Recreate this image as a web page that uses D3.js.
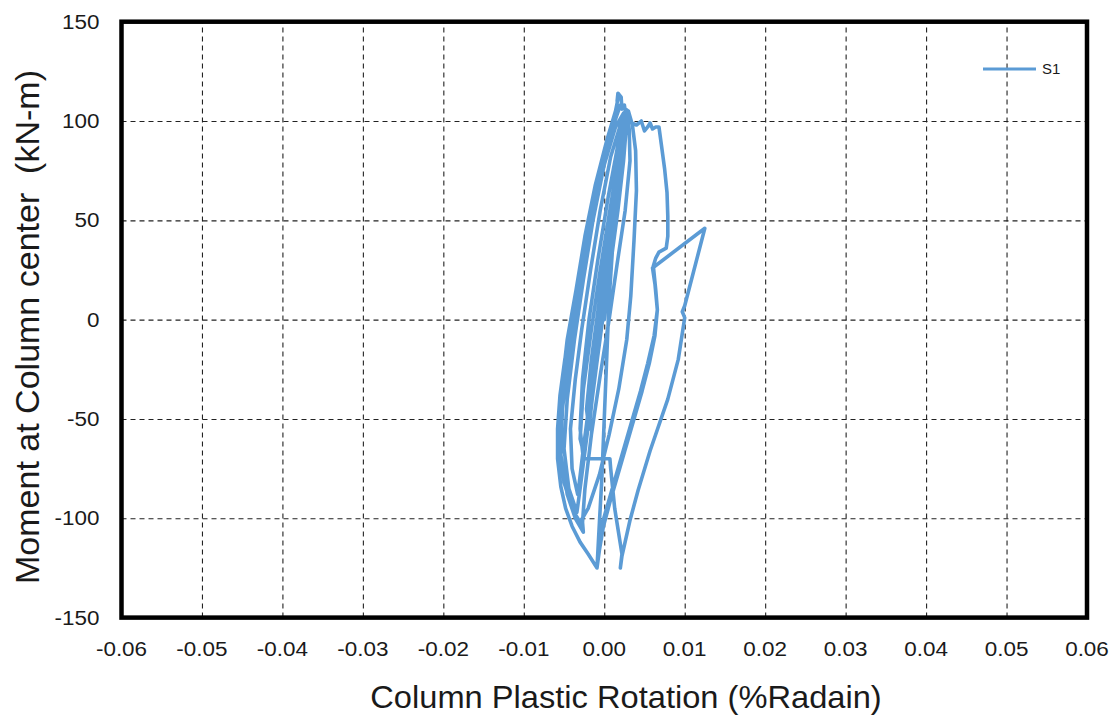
<!DOCTYPE html>
<html>
<head>
<meta charset="utf-8">
<script src="https://cdn.jsdelivr.net/npm/d3@7"></script>
<style>
  html, body { margin: 0; padding: 0; background: #fff; }
  svg { display: block; }
  text { font-family: "Liberation Sans", Arial, sans-serif; fill: #1a1a1a; }
</style>
</head>
<body>
<svg id="chart" width="1117" height="717"></svg>
<script>
// Axis ticks and their printed labels
const xTicks = [-0.06, -0.05, -0.04, -0.03, -0.02, -0.01, 0, 0.01, 0.02, 0.03, 0.04, 0.05, 0.06];
const xTickLabels = ["-0.06", "-0.05", "-0.04", "-0.03", "-0.02", "-0.01", "0.00", "0.01", "0.02", "0.03", "0.04", "0.05", "0.06"];
const yTicks = [-150, -100, -50, 0, 50, 100, 150];
const yTickLabels = ["-150", "-100", "-50", "0", "50", "100", "150"];

const seriesName = "S1";

// Hysteresis record [plastic rotation, moment kN-m], in loading order
const earlyLoops = [
  [0, 0], [0.0005, 20], [0.0011, 42], [0.0016, 58],
  [0.0011, 40], [0.0002, 12], [-0.0008, -18], [-0.0015, -40], [-0.0019, -55],
  [-0.0022, -45], [-0.0016, -20], [-0.0006, 10], [0.0005, 40], [0.0014, 65], [0.0020, 80],
  [0.0016, 65], [0.0008, 38], [-0.0002, 8], [-0.0012, -22], [-0.0020, -48], [-0.0025, -68],
  [-0.0030, -60], [-0.0026, -35], [-0.0016, -5], [-0.0005, 25], [0.0007, 55], [0.0017, 80], [0.0023, 92]
];

const bundleLoops = [
  [0.0021, 82], [0.0013, 55], [0.0003, 25], [-0.0008, -8], [-0.0018, -40], [-0.0026, -65], [-0.0031, -82], [-0.0033, -88],
  [-0.0040, -75], [-0.0042, -55], [-0.0036, -30], [-0.0028, -5], [-0.0017, 25], [-0.0005, 55], [0.0008, 82], [0.0020, 98], [0.0026, 102],
  [0.0027, 95], [0.0024, 80], [0.0017, 55], [0.0008, 28], [-0.0002, 0], [-0.0012, -30], [-0.0022, -60], [-0.0030, -85], [-0.0034, -97],
  [-0.0044, -85], [-0.0050, -65], [-0.0046, -40], [-0.0037, -10], [-0.0026, 20], [-0.0014, 50], [0.0000, 78], [0.0014, 97], [0.0024, 104], [0.0028, 103],
  [0.0031, 96], [0.0032, 80], [0.0026, 55], [0.0016, 28], [0.0006, 0], [-0.0005, -28], [-0.0016, -58], [-0.0024, -85], [-0.0027, -102], [-0.0026, -107],
  [-0.0036, -100], [-0.0046, -88], [-0.0054, -68], [-0.0052, -45], [-0.0043, -15], [-0.0032, 12], [-0.0021, 42], [-0.0006, 72], [0.0009, 95], [0.0020, 108], [0.0030, 105],
  [0.0035, 98], [0.0039, 85], [0.0040, 65], [0.0037, 40], [0.0033, 12], [0.0028, -10], [0.0018, -35], [0.0006, -58], [-0.0006, -78], [-0.0020, -95], [-0.0030, -102], [-0.0039, -96],
  [-0.0050, -82], [-0.0056, -62], [-0.0054, -38], [-0.0046, -10], [-0.0035, 15], [-0.0024, 42], [-0.0011, 68], [0.0003, 90], [0.0014, 105], [0.0018, 113]
];

const peakExcursion = [
  [0.0016, 110], [0.0017, 114], [0.0021, 112], [0.0022, 106], [0.0025, 108], [0.0027, 103], [0.0030, 105], [0.0034, 99],
  [0.0040, 98], [0.0046, 100], [0.0050, 95], [0.0054, 97], [0.0057, 99], [0.0060, 96], [0.0064, 97], [0.0068, 97],
  [0.0071, 88], [0.0075, 76], [0.0078, 64], [0.0079, 52], [0.0079, 42], [0.0077, 36], [0.0068, 34], [0.0064, 31], [0.0061, 27],
  [0.0064, 15], [0.0066, 5], [0.0062, -8], [0.0054, -22], [0.0045, -36], [0.0035, -50], [0.0025, -64], [0.0015, -78],
  [0.0005, -92], [-0.0002, -102], [-0.0006, -114], [-0.0009, -125],
  [-0.0006, -116], [-0.0001, -104], [0.0007, -92], [0.0017, -78], [0.0027, -64], [0.0037, -50], [0.0047, -36], [0.0056, -22],
  [0.0063, -8], [0.0066, 5], [0.0063, 18], [0.0060, 26],
  [0.0125, 46], [0.0100, 7], [0.0097, 4], [0.0100, 1],
  [0.0092, -20], [0.0079, -40], [0.0057, -66], [0.0042, -86], [0.0032, -101], [0.0022, -119], [0.0020, -125],
  [0.0022, -118], [0.0013, -95], [0.0008, -75], [0.0007, -70], [-0.0026, -70]
];

const finalBranch = [
  [-0.0030, -55], [-0.0027, -30], [-0.0019, 0], [-0.0008, 30], [0.0005, 62], [0.0017, 88], [0.0025, 103],
  [0.0024, 92], [0.0019, 70], [0.0011, 40], [0.0006, 10], [0.0003, -20], [0.0000, -50], [-0.0003, -80], [-0.0006, -102], [-0.0009, -125],
  [-0.0020, -118], [-0.0030, -112], [-0.0040, -104], [-0.0048, -95], [-0.0054, -84], [-0.0058, -70], [-0.0058, -55],
  [-0.0055, -38], [-0.0049, -20], [-0.0041, -3], [-0.0034, 15], [-0.0025, 38], [-0.0013, 62], [0.0000, 85], [0.0012, 100], [0.0016, 104]
];

const record = [].concat(earlyLoops, bundleLoops, peakExcursion, finalBranch);

// Layout
const plot = { left: 121.5, right: 1087, top: 21.7, bottom: 617.6 };
const lineColor = "#5B9BD5";
const textStretch = 1.07;

const svg = d3.select("#chart");

const x = d3.scaleLinear().domain([-0.06, 0.06]).range([plot.left, plot.right]);
const y = d3.scaleLinear().domain([-150, 150]).range([plot.bottom, plot.top]);

// Dashed grid
const gx = svg.append("g")
  .attr("transform", `translate(0,${plot.bottom})`)
  .call(d3.axisBottom(x).tickValues(xTicks.slice(1, -1)).tickSize(-(plot.bottom - plot.top)).tickFormat(""));
gx.select(".domain").remove();
gx.selectAll("line").attr("stroke", "#222").attr("stroke-width", 1.1).attr("stroke-dasharray", "5,4");

const gy = svg.append("g")
  .attr("transform", `translate(${plot.left},0)`)
  .call(d3.axisLeft(y).tickValues(yTicks.slice(1, -1)).tickSize(-(plot.right - plot.left)).tickFormat(""));
gy.select(".domain").remove();
gy.selectAll("line").attr("stroke", "#222").attr("stroke-width", 1.1).attr("stroke-dasharray", "5,4");

// Series
const line = d3.line().x(d => x(d[0])).y(d => y(d[1]));
svg.append("path")
  .datum(record)
  .attr("d", line)
  .attr("fill", "none")
  .attr("stroke", lineColor)
  .attr("stroke-width", 3.6)
  .attr("stroke-linejoin", "round")
  .attr("stroke-linecap", "round");

// Plot frame
svg.append("rect")
  .attr("x", plot.left).attr("y", plot.top)
  .attr("width", plot.right - plot.left).attr("height", plot.bottom - plot.top)
  .attr("fill", "none").attr("stroke", "#000").attr("stroke-width", 4.5);

// Tick labels
svg.append("g").selectAll("text")
  .data(xTicks)
  .join("text")
  .attr("transform", d => `translate(${x(d)},${plot.bottom + 38.5}) scale(${textStretch},1)`)
  .attr("text-anchor", "middle")
  .attr("font-size", 21)
  .text((d, i) => xTickLabels[i]);

svg.append("g").selectAll("text")
  .data(yTicks)
  .join("text")
  .attr("transform", d => `translate(${plot.left - 22},${y(d) + 7}) scale(${textStretch},1)`)
  .attr("text-anchor", "end")
  .attr("font-size", 21)
  .text((d, i) => yTickLabels[i]);

// Axis titles
svg.append("text")
  .attr("transform", `translate(626,708) scale(${textStretch},1)`)
  .attr("text-anchor", "middle")
  .attr("font-size", 30.5)
  .text("Column Plastic Rotation (%Radain)");

svg.append("text")
  .attr("transform", `translate(39,327) rotate(-90)`)
  .attr("text-anchor", "middle")
  .attr("font-size", 34)
  .style("white-space", "pre")
  .text("Moment at Column center  (kN-m)");

// Legend
const legend = svg.append("g").attr("transform", "translate(983,69)");
legend.append("line")
  .attr("x1", 0).attr("x2", 53).attr("y1", 0).attr("y2", 0)
  .attr("stroke", lineColor).attr("stroke-width", 3.2);
legend.append("text")
  .attr("transform", `translate(59,5) scale(${textStretch},1)`)
  .attr("font-size", 14)
  .text(seriesName);
</script>
</body>
</html>
